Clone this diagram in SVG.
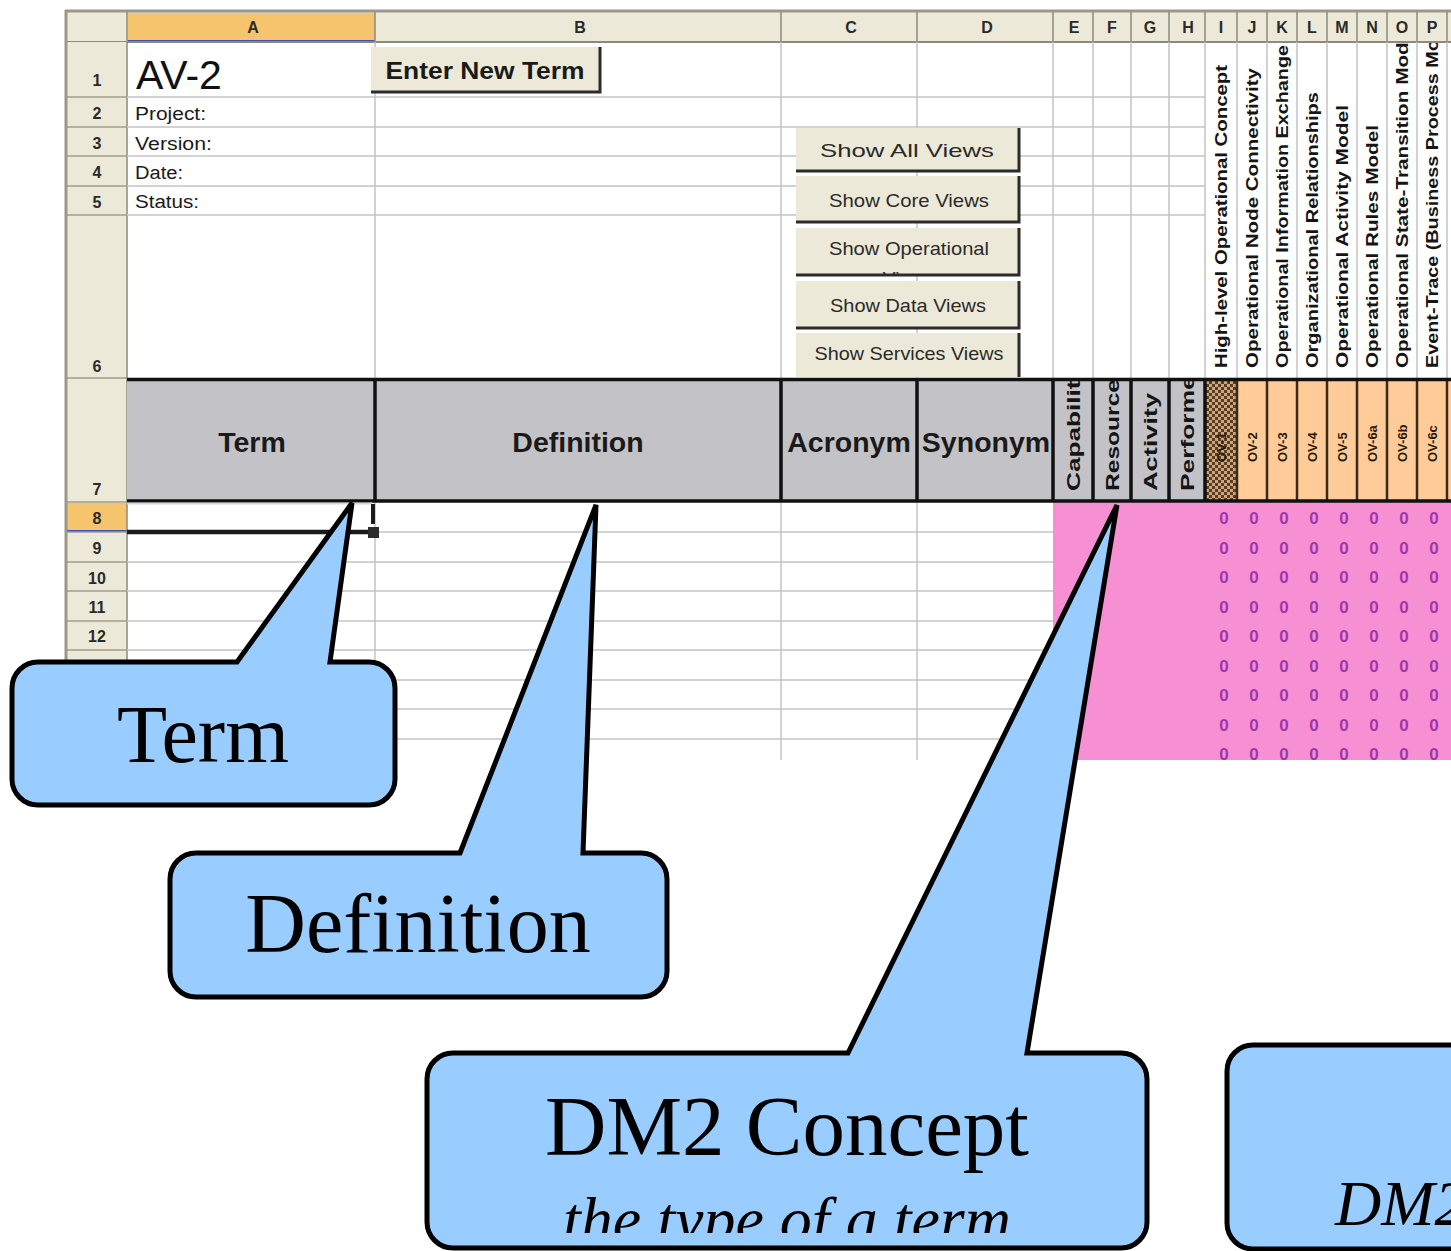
<svg xmlns="http://www.w3.org/2000/svg" width="1451" height="1251" viewBox="0 0 1451 1251">
<defs>
<style>
.beige{fill:#ece9d8}
.grid{stroke:#c4c4c4;stroke-width:1.5;fill:none}
.hsep{stroke:#a19d8e;stroke-width:1.5;fill:none}
.colL{font:bold 16px "Liberation Sans",Arial,sans-serif;fill:#2a2a2a;text-anchor:middle}
.rowN{font:bold 16px "Liberation Sans",Arial,sans-serif;fill:#2a2a2a;text-anchor:middle}
.meta{font:18px "Liberation Sans",Arial,sans-serif;fill:#1a1a1a}
.btn{fill:#ece9d8}
.btnShade{stroke:#2b2b2b;fill:none}
.btnTxt{font:19px "Liberation Sans",Arial,sans-serif;fill:#2a2a2a;text-anchor:middle}
.hd{font:bold 28.5px "Liberation Sans",Arial,sans-serif;fill:#1a1a1a;text-anchor:middle}
.vt{font:bold 17px "Liberation Sans",Arial,sans-serif;fill:#151515}
.vh{font:bold 18px "Liberation Sans",Arial,sans-serif;fill:#151515}
.ov{font:bold 13px "Liberation Sans",Arial,sans-serif;fill:#2a1a0a}
.thick{stroke:#111;stroke-width:3.5;fill:none}
.brown{stroke:#3b2a1a;stroke-width:2.5;fill:none}
.zero{font:bold 17px "Liberation Sans",Arial,sans-serif;fill:#a235aa;text-anchor:middle}
.call{fill:#99ccff;stroke:#000;stroke-width:5;stroke-linejoin:miter}
.ct{font-family:"Liberation Serif","Times New Roman",serif;fill:#000;text-anchor:middle}
.cti{font-family:"Liberation Serif","Times New Roman",serif;font-style:italic;fill:#000}
</style>
<pattern id="hatch" width="6" height="6" patternUnits="userSpaceOnUse">
  <rect width="6" height="6" fill="#caa67c"/>
  <rect width="3" height="3" fill="#5a3d22"/>
  <rect x="3" y="3" width="3" height="3" fill="#5a3d22"/>
</pattern>
<clipPath id="sheetClip"><rect x="0" y="0" width="1451" height="760"/></clipPath>
<clipPath id="row6Clip"><rect x="1205" y="43" width="246" height="334"/></clipPath>
<clipPath id="row7Clip"><rect x="1053" y="381" width="152" height="119"/></clipPath>
<clipPath id="btn3Clip"><rect x="796" y="228" width="223" height="46"/></clipPath>
<clipPath id="subClip"><rect x="427" y="1150" width="720" height="83"/></clipPath>
</defs>

<rect width="1451" height="1251" fill="#fff"/>

<!-- spreadsheet -->
<g id="sheet" clip-path="url(#sheetClip)">
  <rect x="127" y="42" width="1324" height="718" fill="#fff"/>
  <!-- column header band -->
  <rect class="beige" x="65" y="12" width="1386" height="30"/>
  <rect x="128" y="13" width="247" height="28" fill="#f6c46c"/>
  <line x1="128" y1="41" x2="375" y2="41" stroke="#3a4fbf" stroke-width="2"/>
  <line x1="65" y1="42" x2="1451" y2="42" stroke="#8d8a7c" stroke-width="2"/>
  <line x1="65" y1="11" x2="1451" y2="11" stroke="#9b978a" stroke-width="3"/>
  <g stroke="#8d8a7c" stroke-width="1.5">
    <line x1="127" y1="12" x2="127" y2="42"/><line x1="375" y1="12" x2="375" y2="42"/>
    <line x1="781" y1="12" x2="781" y2="42"/><line x1="917" y1="12" x2="917" y2="42"/>
    <line x1="1053" y1="12" x2="1053" y2="42"/><line x1="1093" y1="12" x2="1093" y2="42"/>
    <line x1="1131" y1="12" x2="1131" y2="42"/><line x1="1169" y1="12" x2="1169" y2="42"/>
    <line x1="1205" y1="12" x2="1205" y2="42"/><line x1="1237" y1="12" x2="1237" y2="42"/>
    <line x1="1267" y1="12" x2="1267" y2="42"/><line x1="1297" y1="12" x2="1297" y2="42"/>
    <line x1="1327" y1="12" x2="1327" y2="42"/><line x1="1357" y1="12" x2="1357" y2="42"/>
    <line x1="1387" y1="12" x2="1387" y2="42"/><line x1="1417" y1="12" x2="1417" y2="42"/>
    <line x1="1447" y1="12" x2="1447" y2="42"/>
  </g>
  <g class="colL">
    <text x="253" y="33">A</text><text x="580" y="33">B</text><text x="851" y="33">C</text>
    <text x="987" y="33">D</text><text x="1074" y="33">E</text><text x="1112" y="33">F</text>
    <text x="1150" y="33">G</text><text x="1188" y="33">H</text><text x="1221" y="33">I</text>
    <text x="1252" y="33">J</text><text x="1282" y="33">K</text><text x="1312" y="33">L</text>
    <text x="1342" y="33">M</text><text x="1372" y="33">N</text><text x="1402" y="33">O</text>
    <text x="1432" y="33">P</text>
  </g>

  <!-- row header band -->
  <rect class="beige" x="66" y="42" width="61" height="718"/>
  <rect x="67" y="503" width="60" height="29" fill="#f6c46c"/>
  <line x1="67" y1="531" x2="127" y2="531" stroke="#3a4fbf" stroke-width="2"/>
  <line x1="66" y1="10" x2="66" y2="760" stroke="#9b978a" stroke-width="3"/>
  <line x1="127" y1="42" x2="127" y2="760" stroke="#8d8a7c" stroke-width="1.5"/>
  <path class="hsep" d="M67 97H127M67 127H127M67 156H127M67 186H127M67 215H127M67 378H127M67 502H127M67 532H127M67 562H127M67 591H127M67 621H127M67 650H127M67 680H127M67 709H127M67 739H127"/>
  <g class="rowN">
    <text x="97" y="86">1</text><text x="97" y="119">2</text><text x="97" y="149">3</text>
    <text x="97" y="178">4</text><text x="97" y="208">5</text><text x="97" y="372">6</text>
    <text x="97" y="495">7</text><text x="97" y="524">8</text><text x="97" y="554">9</text>
    <text x="97" y="584">10</text><text x="97" y="613">11</text><text x="97" y="642">12</text>
    <text x="97" y="672">13</text><text x="97" y="701">14</text><text x="97" y="731">15</text>
  </g>

  <!-- cell grid, rows 1-6 -->
  <path class="grid" d="M127 97H1205M127 127H1205M127 156H1205M127 186H1205M127 215H1205"/>
  <path class="grid" d="M375 42V378M781 42V378M917 42V378M1053 42V378M1093 42V378M1131 42V378M1169 42V378M1205 42V378M1237 42V378M1267 42V378M1297 42V378M1327 42V378M1357 42V378M1387 42V378M1417 42V378M1447 42V378"/>
  <!-- cell grid, rows 8+ -->
  <path class="grid" d="M127 562H1053M127 591H1053M127 621H1053M127 650H1053M127 680H1053M127 709H1053M127 739H1053M375 532H1053"/>
  <path class="grid" d="M375 502V760M781 502V760M917 502V760"/>

  <!-- pink matrix area -->
  <rect x="1053" y="502" width="398" height="258" fill="#f690d2"/>
  <g class="zero">
    <g id="zrow0"><text x="1224" y="524">0</text><text x="1254" y="524">0</text><text x="1284" y="524">0</text><text x="1314" y="524">0</text><text x="1344" y="524">0</text><text x="1374" y="524">0</text><text x="1404" y="524">0</text><text x="1434" y="524">0</text></g>
    <use href="#zrow0" y="29.5"/><use href="#zrow0" y="59"/><use href="#zrow0" y="88.5"/>
    <use href="#zrow0" y="118"/><use href="#zrow0" y="147.5"/><use href="#zrow0" y="177"/>
    <use href="#zrow0" y="206.5"/><use href="#zrow0" y="236"/>
  </g>

  <!-- title rows -->
  <text x="136" y="89" font-family="Liberation Sans, Arial, sans-serif" font-size="41" fill="#111">AV-2</text>
  <g class="meta">
    <text x="135" y="120" textLength="71" lengthAdjust="spacingAndGlyphs">Project:</text>
    <text x="135" y="150" textLength="77" lengthAdjust="spacingAndGlyphs">Version:</text>
    <text x="135" y="179" textLength="48" lengthAdjust="spacingAndGlyphs">Date:</text>
    <text x="135" y="208" textLength="64" lengthAdjust="spacingAndGlyphs">Status:</text>
  </g>

  <!-- rotated view titles, row 6 -->
  <g class="vt" clip-path="url(#row6Clip)">
    <text transform="translate(1227,368) rotate(-90)" textLength="303" lengthAdjust="spacingAndGlyphs">High-level Operational Concept</text>
    <text transform="translate(1258,368) rotate(-90)" textLength="300" lengthAdjust="spacingAndGlyphs">Operational Node Connectivity</text>
    <text transform="translate(1288,368) rotate(-90)" textLength="323" lengthAdjust="spacingAndGlyphs">Operational Information Exchange</text>
    <text transform="translate(1318,368) rotate(-90)" textLength="276" lengthAdjust="spacingAndGlyphs">Organizational Relationships</text>
    <text transform="translate(1348,368) rotate(-90)" textLength="263" lengthAdjust="spacingAndGlyphs">Operational Activity Model</text>
    <text transform="translate(1378,368) rotate(-90)" textLength="243" lengthAdjust="spacingAndGlyphs">Operational Rules Model</text>
    <text transform="translate(1408,368) rotate(-90)" textLength="343" lengthAdjust="spacingAndGlyphs">Operational State-Transition Model</text>
    <text transform="translate(1438,368) rotate(-90)" textLength="364" lengthAdjust="spacingAndGlyphs">Event-Trace (Business Process Model)</text>
  </g>

  <!-- header row 7 -->
  <rect x="127" y="378" width="1078" height="124" fill="#c3c3c7"/>
  <rect x="1205" y="378" width="32" height="124" fill="url(#hatch)"/>
  <rect x="1237" y="378" width="214" height="124" fill="#ffcc99"/>
  <g class="hd">
    <text x="252" y="452">Term</text>
    <text x="578" y="452">Definition</text>
    <text x="849" y="452">Acronym</text>
    <text x="986" y="452">Synonym</text>
  </g>
  <g class="vh" clip-path="url(#row7Clip)">
    <text transform="translate(1080,491) rotate(-90)" textLength="125" lengthAdjust="spacingAndGlyphs">Capability</text>
    <text transform="translate(1119,491) rotate(-90)" textLength="112" lengthAdjust="spacingAndGlyphs">Resource</text>
    <text transform="translate(1157,491) rotate(-90)" textLength="98" lengthAdjust="spacingAndGlyphs">Activity</text>
    <text transform="translate(1194,491) rotate(-90)" textLength="126" lengthAdjust="spacingAndGlyphs">Performer</text>
  </g>
  <g class="ov">
    <text transform="translate(1226,462) rotate(-90)">OV-1</text>
    <text transform="translate(1257,462) rotate(-90)">OV-2</text>
    <text transform="translate(1287,462) rotate(-90)">OV-3</text>
    <text transform="translate(1317,462) rotate(-90)">OV-4</text>
    <text transform="translate(1347,462) rotate(-90)">OV-5</text>
    <text transform="translate(1377,462) rotate(-90)">OV-6a</text>
    <text transform="translate(1407,462) rotate(-90)">OV-6b</text>
    <text transform="translate(1437,462) rotate(-90)">OV-6c</text>
  </g>
  <path class="brown" d="M1237 379V502M1267 379V502M1297 379V502M1327 379V502M1357 379V502M1387 379V502M1417 379V502M1447 379V502"/>
  <path class="thick" d="M127 379.5H1451M127 501H1451M375 379V502M781 379V502M917 379V502M1053 379V502M1093 379V502M1131 379V502M1169 379V502M1205 379V502"/>

  <!-- active cell A8 -->
  <line x1="127" y1="503.5" x2="372" y2="503.5" stroke="#d8d8d8" stroke-width="2"/>
  <line x1="127" y1="532" x2="370" y2="532" stroke="#1a1a1a" stroke-width="4.5"/>
  <line x1="373" y1="504" x2="373" y2="524" stroke="#1a1a1a" stroke-width="4"/>
  <rect x="368" y="527" width="11" height="11" fill="#2a2a2a"/>
</g>

<!-- macro buttons -->
<g id="btn-enter">
  <rect class="btn" x="371" y="47" width="229" height="46"/>
  <path class="btnShade" stroke-width="3" d="M371 92H600V47"/>
  <text x="485" y="79" font-family="Liberation Sans, Arial, sans-serif" font-weight="bold" font-size="23" fill="#1a1a1a" text-anchor="middle" textLength="199" lengthAdjust="spacingAndGlyphs">Enter New Term</text>
</g>
<g id="btn-all">
  <rect class="btn" x="796" y="128" width="223" height="44"/>
  <path class="btnShade" stroke-width="3" d="M796 171H1019V128"/>
  <text class="btnTxt" x="907" y="157" font-weight="bold" textLength="174" lengthAdjust="spacingAndGlyphs">Show All Views</text>
</g>
<g id="btn-core">
  <rect class="btn" x="796" y="176" width="223" height="47"/>
  <path class="btnShade" stroke-width="3" d="M796 222H1019V176"/>
  <text class="btnTxt" x="909" y="207" textLength="160" lengthAdjust="spacingAndGlyphs">Show Core Views</text>
</g>
<g id="btn-ops">
  <rect class="btn" x="796" y="228" width="223" height="48"/>
  <g clip-path="url(#btn3Clip)">
    <text class="btnTxt" x="909" y="255" textLength="160" lengthAdjust="spacingAndGlyphs">Show Operational</text>
    <text class="btnTxt" x="908" y="285">Views</text>
  </g>
  <path class="btnShade" stroke-width="3" d="M796 275H1019V228"/>
</g>
<g id="btn-data">
  <rect class="btn" x="796" y="281" width="223" height="47"/>
  <path class="btnShade" stroke-width="3" d="M796 328H1019V281"/>
  <text class="btnTxt" x="908" y="312" textLength="156" lengthAdjust="spacingAndGlyphs">Show Data Views</text>
</g>
<g id="btn-services">
  <rect class="btn" x="796" y="333" width="223" height="44"/>
  <path class="btnShade" stroke-width="3" d="M1019 333V377"/>
  <text class="btnTxt" x="909" y="360" textLength="189" lengthAdjust="spacingAndGlyphs">Show Services Views</text>
</g>

<!-- callouts -->
<g id="callout-term">
  <path class="call" d="M237 662L352 503L330 662H369A26 26 0 0 1 395 688V779A26 26 0 0 1 369 805H38A26 26 0 0 1 12 779V688A26 26 0 0 1 38 662Z"/>
  <text class="ct" x="203" y="762" font-size="82">Term</text>
</g>
<g id="callout-definition">
  <path class="call" d="M460 853L596 505L583 853H641A26 26 0 0 1 667 879V971A26 26 0 0 1 641 997H196A26 26 0 0 1 170 971V879A26 26 0 0 1 196 853Z"/>
  <text class="ct" x="418" y="952" font-size="84">Definition</text>
</g>
<g id="callout-concept">
  <path class="call" d="M848 1053L1117 505L1027 1053H1121A26 26 0 0 1 1147 1079V1222A26 26 0 0 1 1121 1248H453A26 26 0 0 1 427 1222V1079A26 26 0 0 1 453 1053Z"/>
  <text class="ct" x="787" y="1155" font-size="85">DM2 Concept</text>
  <g clip-path="url(#subClip)">
    <text class="cti" x="787" y="1241" font-size="64" text-anchor="middle">the type of a term</text>
  </g>
</g>
<g id="callout-right">
  <path class="call" d="M1253 1045H1480V1249H1253A26 26 0 0 1 1227 1223V1071A26 26 0 0 1 1253 1045Z"/>
  <text class="cti" x="1335" y="1225" font-size="64">DM2</text>
</g>
</svg>
